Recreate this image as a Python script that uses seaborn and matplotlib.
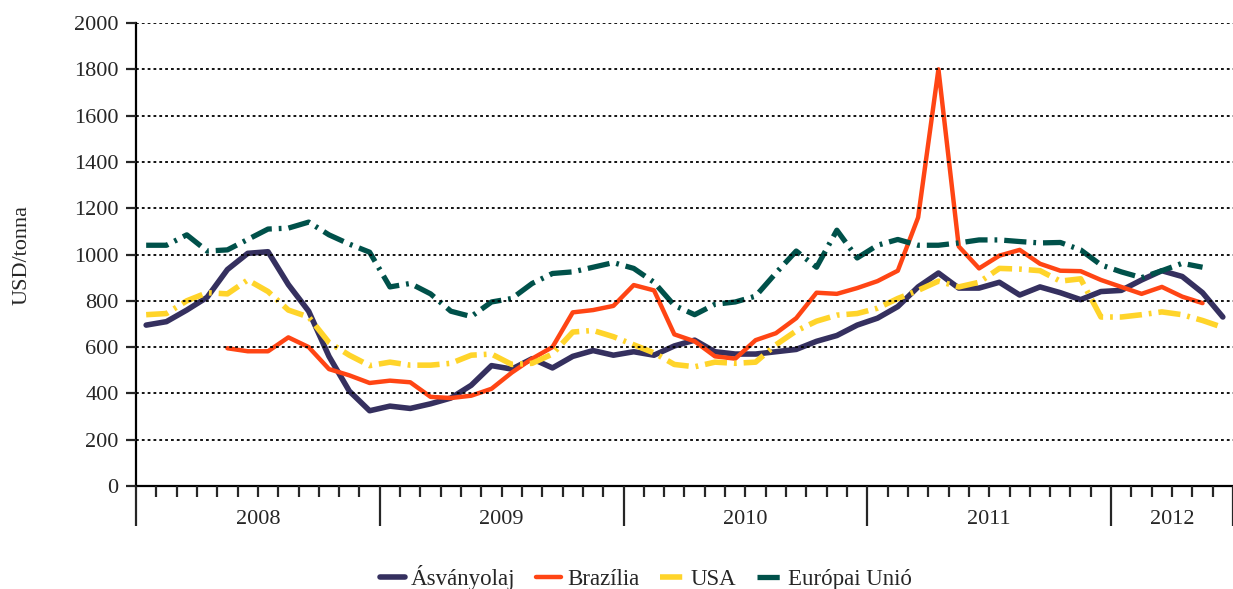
import numpy as np
import pandas as pd
import matplotlib
matplotlib.use("Agg")
import matplotlib.pyplot as plt
import matplotlib.transforms as mtransforms
import seaborn as sns

# ── Data (monthly, Jan 2008 – Jun 2012), USD/tonna ───────────
years = ["2008", "2009", "2010", "2011", "2012"]
months_per_year = [12, 12, 12, 12, 6]

asvanyolaj = [695, 710, 760, 815, 935, 1005, 1012, 870, 755, 560,
              410, 325, 345, 335, 355, 380, 435, 520, 505, 550,
              510, 560, 585, 565, 580, 565, 605, 630, 580, 570,
              570, 580, 590, 625, 650, 695, 725, 775, 860, 920,
              855, 855, 880, 825, 860, 835, 805, 840, 845, 890,
              930, 905, 835, 730]

brazilia = [np.nan, np.nan, np.nan, np.nan, 595, 582, 582, 642, 600, 505,
            478, 445, 455, 448, 385, 380, 390, 420, 490, 550,
            600, 750, 760, 778, 868, 845, 655, 625, 560, 550,
            630, 660, 725, 835, 830, 855, 885, 930, 1160, 1800,
            1035, 940, 995, 1020, 960, 930, 928, 890, 860, 830,
            860, 818, 790, np.nan]

usa = [740, 745, 800, 835, 830, 890, 840, 760, 730, 620,
       565, 520, 535, 522, 522, 530, 565, 570, 525, 530,
       570, 665, 672, 645, 610, 575, 525, 515, 535, 530,
       535, 610, 670, 712, 738, 745, 768, 810, 845, 885,
       860, 880, 940, 937, 930, 885, 895, 730, 730, 740,
       752, 740, 715, 685]

europai_unio = [1040, 1040, 1085, 1015, 1020, 1065, 1110, 1114, 1140, 1085,
                1045, 1010, 860, 875, 830, 755, 732, 795, 810, 875,
                918, 925, 945, 965, 940, 880, 780, 740, 785, 795,
                820, 920, 1015, 945, 1105, 985, 1040, 1065, 1040, 1040,
                1050, 1063, 1063, 1056, 1050, 1052, 1020, 955, 925, 900,
                930, 962, 945, np.nan]

series = [
    ("Ásványolaj", asvanyolaj, "#35305F", 4.0, "-"),
    ("Brazília", brazilia, "#FF4514", 3.2, "-"),
    ("USA", usa, "#FFD42A", 4.0, (0, (16, 5, 2, 5))),
    ("Európai Unió", europai_unio, "#00514A", 3.8, (0, (16, 5, 2, 5))),
]

# ── Style ─────────────────────────────────────────────────────
sns.set_style("white")
plt.rcParams.update({
    "font.family": ["Liberation Serif", "DejaVu Serif"],
    "font.size": 16,
    "lines.scale_dashes": False,
    "axes.edgecolor": "black",
    "axes.linewidth": 1.6,
})

fig = plt.figure(figsize=(12.33, 5.89), dpi=100)
ax = fig.add_axes([0.1103, 0.1749, 0.8897, 0.7860])

n = len(asvanyolaj)
idx = np.arange(n)
for name, vals, color, lw, ls in series:
    df = pd.DataFrame({"month": idx, "value": vals})
    sns.lineplot(data=df, x="month", y="value", ax=ax, color=color,
                 linewidth=lw, linestyle=ls, label=name)

# ── Axes ──────────────────────────────────────────────────────
ax.set_xlim(-0.5, n - 0.5)
ax.set_ylim(0, 2000)
ax.set_yticks(np.arange(0, 2001, 200))
ax.yaxis.grid(True, color="black", linestyle=(0, (2, 2.2)), linewidth=1.3)
ax.xaxis.grid(False)
ax.set_axisbelow(False)
for s in ["top", "right"]:
    ax.spines[s].set_visible(False)

ax.tick_params(axis="y", direction="out", length=7.5, width=1.6,
               labelsize=16, pad=5, left=True)
ax.set_ylabel("USD/tonna", fontsize=16, labelpad=31)
ax.set_xlabel("")

# month ticks (minor) and year boundaries (major)
bounds = np.concatenate([[0], np.cumsum(months_per_year)]) - 0.5
ax.set_xticks(bounds)
ax.set_xticklabels([])
ax.set_xticks(np.arange(-0.5, n, 1.0), minor=True)
ax.tick_params(axis="x", which="major", direction="out", length=29, width=1.6,
               bottom=True)
ax.tick_params(axis="x", which="minor", direction="out", length=8, width=1.6,
               bottom=True)

trans = mtransforms.blended_transform_factory(ax.transData, ax.transAxes)
for yr, lo, hi in zip(years, bounds[:-1], bounds[1:]):
    ax.text((lo + hi) / 2, -0.073, yr, transform=trans, ha="center",
            va="center", fontsize=16)

leg = ax.legend(loc="center", bbox_to_anchor=(0.465, -0.198), ncol=4,
                frameon=False, fontsize=16.5, handlelength=1.1,
                handletextpad=0.25, columnspacing=0.9)

fig.savefig("out.png", dpi=100)
